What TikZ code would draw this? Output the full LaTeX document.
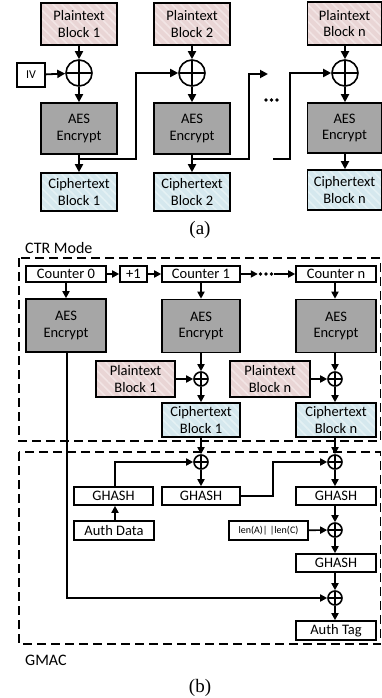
\documentclass[tikz,border=0pt]{standalone}
\usepackage{fontspec}
\setmainfont{Carlito}
\newfontfamily\capfont{Liberation Serif}
\usetikzlibrary{arrows.meta,patterns.meta}

\definecolor{ptbase}{HTML}{E9D5D5}
\definecolor{ptline}{HTML}{F2E5E5}
\definecolor{ctbase}{HTML}{D5E8EE}
\definecolor{ctline}{HTML}{E4F1F4}
\definecolor{aesgray}{HTML}{A6A6A6}

\tikzset{
  blk/.style={draw, line width=1.6pt, inner sep=0pt, align=center,
    font=\fontsize{14.5}{16.5}\selectfont},
  plainbox/.style={blk, preaction={fill=ptbase},
    pattern={Lines[angle=-45,distance=6pt,line width=1.6pt]}, pattern color=ptline},
  cipherbox/.style={blk, preaction={fill=ctbase},
    pattern={Lines[angle=-45,distance=6pt,line width=1.6pt]}, pattern color=ctline},
  aesbox/.style={blk, fill=aesgray},
  whitebox/.style={blk, fill=white},
  xorbig/.style={circle, draw, line width=1.6pt, minimum size=26pt, inner sep=0pt,
    path picture={\draw[line width=1.6pt]
      (path picture bounding box.north) -- (path picture bounding box.south)
      (path picture bounding box.west) -- (path picture bounding box.east);}},
  xorsmall/.style={xorbig, minimum size=14pt},
  conn/.style={line width=1.8pt, -{Triangle[length=8pt,width=8pt]}},
  connb/.style={line width=1.7pt, -{Triangle[length=7pt,width=7pt]}},
  region/.style={line width=1.5pt, dash pattern=on 9pt off 5pt},
  lbl/.style={font=\fontsize{16}{18}\selectfont, anchor=west, inner sep=0pt},
  caption/.style={font=\capfont\fontsize{19}{21}\selectfont, inner sep=0pt},
  % three filled dots standing for the omitted stages
  dotmark/.style={minimum width=16pt, minimum height=6pt, inner sep=0pt,
    path picture={
      \fill (path picture bounding box.center) circle[radius=1.9pt];
      \fill ([xshift=-5.5pt]path picture bounding box.center) circle[radius=1.9pt];
      \fill ([xshift=5.5pt]path picture bounding box.center) circle[radius=1.9pt];}}
}

\begin{document}
\begin{tikzpicture}[x=1pt, y=-1pt]
\useasboundingbox (0,0) rectangle (382,698);

% ---------- (a) CBC chain ----------
\node[plainbox, minimum width=76pt, minimum height=42pt] (p1) at (79,24) {Plaintext\\Block 1};
\node[plainbox, minimum width=76pt, minimum height=42pt] (p2) at (192,24) {Plaintext\\Block 2};
\node[plainbox, minimum width=74pt, minimum height=43pt] (pn) at (344.5,23.5) {Plaintext\\Block n};

\node[whitebox, minimum width=28pt, minimum height=24pt, font=\fontsize{12}{14}\selectfont] (iv) at (31,75) {IV};

\node[xorbig] (x1) at (79,73) {};
\node[xorbig] (x2) at (192,73) {};
\node[xorbig] (xn) at (345,73) {};

\node[aesbox, minimum width=76pt, minimum height=51pt] (a1) at (79,128.5) {AES\\Encrypt};
\node[aesbox, minimum width=76pt, minimum height=51pt] (a2) at (192,128.5) {AES\\Encrypt};
\node[aesbox, minimum width=74pt, minimum height=50pt] (an) at (344.5,128) {AES\\Encrypt};

\node[cipherbox, minimum width=76pt, minimum height=38pt] (c1) at (79,192) {Ciphertext\\Block 1};
\node[cipherbox, minimum width=76pt, minimum height=38pt] (c2) at (192,192) {Ciphertext\\Block 2};
\node[cipherbox, minimum width=74pt, minimum height=40pt] (cn) at (344.5,190) {Ciphertext\\Block n};

\node[dotmark] (dotsa) at (271.5,100) {};
\coordinate (chainout) at (268,74);
\coordinate (chainin) at (273,159);

\draw[conn] (p1) -- (x1);
\draw[conn] (iv) -- (x1);
\draw[conn] (x1) -- (a1);
\draw[conn] (a1) -- (c1);
\draw[conn] (p2) -- (x2);
\draw[conn] (x2) -- (a2);
\draw[conn] (a2) -- (c2);
\draw[conn] (pn.south -| xn) -- (xn);
\draw[conn] (xn) -- (an.north -| xn);
\draw[conn] (an.south -| xn) -- (cn.north -| xn);

\draw[conn] (a1.south |- 0,159) -- (136,159) |- (x2.west);
\draw[conn] (a2.south |- 0,159) -- (249,159) |- (chainout);
\draw[conn] (chainin) -- (290,159) |- (xn.west);

\node[caption] (capa) at (200,230) {(a)};

% ---------- (b) GCM ----------
\node[lbl] (ctrlbl) at (25,248) {CTR Mode};
\draw[region] (19,258) rectangle (380.5,441);

\node[whitebox, minimum width=80pt, minimum height=16pt] (k0) at (66,274) {Counter 0};
\node[whitebox, minimum width=27pt, minimum height=16pt] (inc) at (133.5,274) {+1};
\node[whitebox, minimum width=78pt, minimum height=16pt] (k1) at (201,274) {Counter 1};
\node[whitebox, minimum width=80pt, minimum height=16pt] (kn) at (336,274) {Counter n};

\node[aesbox, minimum width=80pt, minimum height=53pt] (e0) at (66,325.5) {AES\\Encrypt};
\node[aesbox, minimum width=78pt, minimum height=53pt] (e1) at (201,326) {AES\\Encrypt};
\node[aesbox, minimum width=80pt, minimum height=53pt] (en) at (336,326) {AES\\Encrypt};

\node[plainbox, minimum width=79pt, minimum height=36pt] (q1) at (135.5,379) {Plaintext\\Block 1};
\node[plainbox, minimum width=80pt, minimum height=36pt] (qn) at (270,379) {Plaintext\\Block n};
\node[xorsmall] (y1) at (201,379) {};
\node[xorsmall] (yn) at (335,379) {};

\node[cipherbox, minimum width=78pt, minimum height=34pt] (d1) at (201,420) {Ciphertext\\Block 1};
\node[cipherbox, minimum width=80pt, minimum height=34pt] (dn) at (336,420) {Ciphertext\\Block n};

\node[dotmark] (dotsb) at (266,274) {};

\draw[connb] (k0) -- (inc);
\draw[connb] (inc) -- (k1);
\draw[connb] (k1) -- (dotsb.west);
\draw[connb] (dotsb.east) -- (kn);
\draw[connb] (k0) -- (e0);
\draw[connb] (k1) -- (e1);
\draw[connb] (kn.south -| yn) -- (en.north -| yn);
\draw[connb] (e1) -- (y1);
\draw[connb] (en.south -| yn) -- (yn);
\draw[connb] (q1) -- (y1);
\draw[connb] (qn) -- (yn);
\draw[connb] (y1) -- (d1);
\draw[connb] (yn) -- (dn.north -| yn);

% GMAC part
\draw[region] (19,452) rectangle (380.5,644);

\node[xorsmall] (za) at (201,462) {};
\node[xorsmall] (zb) at (335,462) {};
\node[whitebox, minimum width=79pt, minimum height=18pt] (g1) at (113.5,496) {GHASH};
\node[whitebox, minimum width=78pt, minimum height=18pt] (g2) at (201,496) {GHASH};
\node[whitebox, minimum width=80pt, minimum height=18pt] (g3) at (336,496) {GHASH};
\node[whitebox, minimum width=80pt, minimum height=19pt] (ad) at (114,530.5) {Auth Data};
\node[whitebox, minimum width=79pt, minimum height=19pt, font=\fontsize{10}{12}\selectfont] (len) at (268.5,530.5) {len(A)| |len(C)};
\node[xorsmall] (zc) at (335,530) {};
\node[whitebox, minimum width=80pt, minimum height=18pt] (g4) at (336,563) {GHASH};
\node[xorsmall] (zd) at (335,598) {};
\node[whitebox, minimum width=80pt, minimum height=19pt] (tag) at (336,630.5) {Auth Tag};

\draw[connb] (d1) -- (za);
\draw[connb] (dn.south -| zb) -- (zb);
\draw[connb] (ad.north -| 115,0) -- (g1.south -| 115,0);
\draw[connb] (g1.north -| 115,0) |- (za.west);
\draw[connb] (za) -- (g2);
\draw[connb] (g2.east) -- (273,496) |- (zb.west);
\draw[connb] (zb) -- (g3.north -| zb);
\draw[connb] (g3.south -| zc) -- (zc);
\draw[connb] (len) -- (zc);
\draw[connb] (zc) -- (g4.north -| zc);
\draw[connb] (g4.south -| zd) -- (zd);
\draw[connb] (e0.south -| 67,0) |- (zd.west);
\draw[connb] (zd) -- (tag.north -| zd);

\node[lbl] (gmaclbl) at (25,660) {GMAC};
\node[caption] (capb) at (200,688) {(b)};
\end{tikzpicture}
\end{document}
